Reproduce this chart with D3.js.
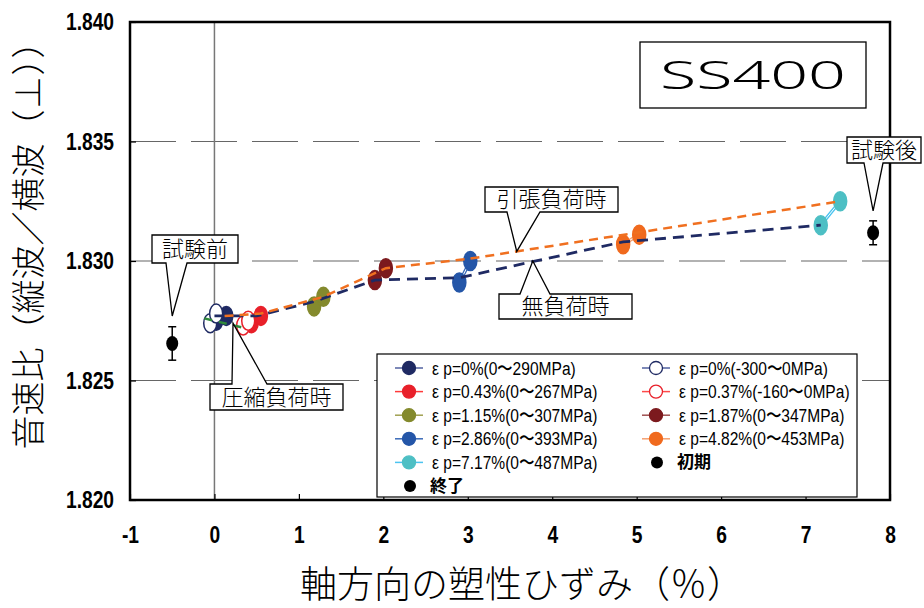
<html><head>
<meta charset="utf-8">
<script src="https://d3js.org/d3.v7.min.js"></script>
<style>
body { margin: 0; background: #fff; }
</style>
</head>
<body>
<div id="chart"></div>
<script>

// axis ticks
var xTicks = [-1, 0, 1, 2, 3, 4, 5, 6, 7, 8];
var yTicks = [1.820, 1.825, 1.830, 1.835, 1.840];
var gridValues = [1.825, 1.830, 1.835];

// series: [plastic strain %, velocity ratio]
var seriesNames = [
  "ε p=0%(0〜290MPa)", "ε p=0%(-300〜0MPa)",
  "ε p=0.43%(0〜267MPa)", "ε p=0.37%(-160〜0MPa)",
  "ε p=1.15%(0〜307MPa)", "ε p=1.87%(0〜347MPa)",
  "ε p=2.86%(0〜393MPa)", "ε p=4.82%(0〜453MPa)",
  "ε p=7.17%(0〜487MPa)"
];
var seriesPoints = [
  [[0.02, 1.8275], [0.14, 1.8277]],
  [[-0.05, 1.8274], [0.02, 1.8278]],
  [[0.44, 1.8274], [0.55, 1.8277]],
  [[0.34, 1.8273], [0.40, 1.8275]],
  [[1.18, 1.8281], [1.29, 1.8285]],
  [[1.90, 1.8292], [2.03, 1.8297]],
  [[2.90, 1.8291], [3.03, 1.8300]],
  [[4.84, 1.8307], [5.03, 1.8311]],
  [[7.18, 1.8315], [7.41, 1.8325]]
];
var seriesOpen = [false, true, false, true, false, false, false, false, false];

// initial / final measurements with error bars [x, y, err]
var initialPoint = [-0.5, 1.82655, 0.0007];
var finalPoint = [7.8, 1.83118, 0.0005];

// trend lines
var tensionLine = [[0.12, 1.8277], [0.55, 1.8278], [1.29, 1.8285], [2.03, 1.8297], [3.03, 1.8301], [5.03, 1.8312], [7.41, 1.8325]];
var unloadLine = [[0.0, 1.8277], [0.5, 1.8277], [1.18, 1.8283], [1.90, 1.8292], [2.90, 1.8293], [4.84, 1.8308], [7.18, 1.8315]];
var compressLine = [[-0.12, 1.8276], [0.35, 1.8272]];

// styles
var markerColors = ["#1f2a63", "#1f2a63", "#e8202a", "#e8202a", "#848a2d", "#7c1a1e", "#2456a8", "#f06a1e", "#4dbfc4"];
var lineColors = ["#5262a0", "#5262a0", "#ff3a3a", "#ff4a4a", "#a0a050", "#a05050", "#3a6ab8", "#f5a070", "#4cc4f0"];

var width = 924, height = 608;
var plot = {left: 130, right: 890, top: 22, bottom: 500};

var svg = d3.select("#chart").append("svg")
    .attr("width", width)
    .attr("height", height);

var x = d3.scaleLinear().domain([-1, 8]).range([plot.left, plot.right]);
var y = d3.scaleLinear().domain([1.820, 1.840]).range([plot.bottom, plot.top]);

var numFont = "'Liberation Sans', Arial, sans-serif";
var jpFont = "'Noto Sans CJK JP', sans-serif";

// grid lines
svg.selectAll(".grid").data(gridValues).enter().append("line")
    .attr("x1", plot.left).attr("x2", plot.right)
    .attr("y1", function(d) { return y(d); })
    .attr("y2", function(d) { return y(d); })
    .attr("stroke", "#666")
    .attr("stroke-width", 1.2)
    .attr("stroke-dasharray", "46,15");

svg.append("line")
    .attr("x1", x(0)).attr("x2", x(0))
    .attr("y1", plot.top).attr("y2", plot.bottom)
    .attr("stroke", "#777")
    .attr("stroke-width", 1.5);

// axes
var xAxis = svg.append("g")
    .attr("transform", "translate(0," + plot.bottom + ")")
    .call(d3.axisBottom(x).tickValues(xTicks).tickSize(-6).tickPadding(26)
      .tickFormat(function(d) { return String(d); }));
var yAxis = svg.append("g")
    .attr("transform", "translate(" + plot.left + ",0)")
    .call(d3.axisLeft(y).tickValues(yTicks).tickSize(-6).tickPadding(17)
      .tickFormat(function(d) { return d.toFixed(3); }));

[xAxis, yAxis].forEach(function(ax) {
  ax.select(".domain").remove();
  ax.selectAll(".tick line").attr("stroke", "#000").attr("stroke-width", 1.2);
  ax.selectAll(".tick text")
    .style("font-family", numFont)
    .style("font-size", "24px")
    .style("font-weight", "bold")
    .attr("fill", "#000");
});
xAxis.selectAll(".tick text").attr("transform", "scale(0.8,1)");
yAxis.selectAll(".tick text").attr("transform", "scale(0.8,1)").attr("x", -16 / 0.8);

// frame
svg.append("rect")
    .attr("x", plot.left).attr("y", plot.top)
    .attr("width", plot.right - plot.left)
    .attr("height", plot.bottom - plot.top)
    .attr("fill", "none")
    .attr("stroke", "#000")
    .attr("stroke-width", 2.5);

// series connecting lines
var line = d3.line().x(function(d) { return x(d[0]); }).y(function(d) { return y(d[1]); });
seriesPoints.forEach(function(pts, i) {
  svg.append("path").datum(pts).attr("d", line)
      .attr("fill", "none").attr("stroke", lineColors[i]).attr("stroke-width", 3.5);
  svg.append("path").datum(pts).attr("d", line)
      .attr("fill", "none").attr("stroke", "#fff").attr("stroke-width", 1);
});

// markers
seriesPoints.forEach(function(pts, i) {
  svg.selectAll(".m" + i).data(pts).enter().append("ellipse")
      .attr("cx", function(d) { return x(d[0]); })
      .attr("cy", function(d) { return y(d[1]); })
      .attr("rx", 6.5)
      .attr("ry", 9.5)
      .attr("fill", seriesOpen[i] ? "#fff" : markerColors[i])
      .attr("stroke", markerColors[i])
      .attr("stroke-width", 1.5);
});

// initial / final
[initialPoint, finalPoint].forEach(function(p) {
  var g = svg.append("g").attr("stroke", "#000").attr("stroke-width", 1.5);
  g.append("line").attr("x1", x(p[0])).attr("x2", x(p[0]))
      .attr("y1", y(p[1] - p[2])).attr("y2", y(p[1] + p[2]));
  g.append("line").attr("x1", x(p[0]) - 4).attr("x2", x(p[0]) + 4)
      .attr("y1", y(p[1] - p[2])).attr("y2", y(p[1] - p[2]));
  g.append("line").attr("x1", x(p[0]) - 4).attr("x2", x(p[0]) + 4)
      .attr("y1", y(p[1] + p[2])).attr("y2", y(p[1] + p[2]));
  svg.append("ellipse").attr("cx", x(p[0])).attr("cy", y(p[1]))
      .attr("rx", 6).attr("ry", 7.5).attr("fill", "#000");
});

// trend lines (drawn over the markers)
svg.append("path").datum(compressLine).attr("d", line)
    .attr("fill", "none").attr("stroke", "#2f8a3a").attr("stroke-width", 2.5)
    .attr("stroke-dasharray", "8,7");
svg.append("path").datum(unloadLine).attr("d", line)
    .attr("fill", "none").attr("stroke", "#1f2a63").attr("stroke-width", 2.8)
    .attr("stroke-dasharray", "11,7");
svg.append("path").datum(tensionLine).attr("d", line)
    .attr("fill", "none").attr("stroke", "#f07020").attr("stroke-width", 2.5)
    .attr("stroke-dasharray", "9,6");

// callouts
var callouts = [
  {text: "試験前", box: [152, 235, 238, 263], base: [166, 187], side: "bottom", tip: [-0.5, 1.8277]},
  {text: "試験後", box: [847, 137, 921, 163], base: [864, 883], side: "bottom", tip: [7.8, 1.8321]},
  {text: "引張負荷時", box: [485, 187, 618, 212], base: [507, 540], side: "bottom", tip: [3.58, 1.8304]},
  {text: "無負荷時", box: [499, 294, 632, 319], base: [520, 550], side: "top", tip: [3.77, 1.8300]},
  {text: "圧縮負荷時", box: [210, 384, 343, 410], base: [232, 267], side: "top", tip: [0.22, 1.8274]}
];
callouts.forEach(function(c) {
  var b = c.box, tx = x(c.tip[0]), ty = y(c.tip[1]);
  var p = d3.path();
  if (c.side === "bottom") {
    p.moveTo(b[0], b[1]); p.lineTo(b[2], b[1]); p.lineTo(b[2], b[3]);
    p.lineTo(c.base[1], b[3]); p.lineTo(tx, ty); p.lineTo(c.base[0], b[3]);
    p.lineTo(b[0], b[3]); p.closePath();
  } else {
    p.moveTo(b[0], b[1]); p.lineTo(c.base[0], b[1]); p.lineTo(tx, ty);
    p.lineTo(c.base[1], b[1]); p.lineTo(b[2], b[1]); p.lineTo(b[2], b[3]);
    p.lineTo(b[0], b[3]); p.closePath();
  }
  svg.append("path").attr("d", p.toString())
      .attr("fill", "#fff").attr("stroke", "#000").attr("stroke-width", 1.3);
  svg.append("text")
      .attr("x", (b[0] + b[2]) / 2)
      .attr("y", (b[1] + b[3]) / 2)
      .attr("dy", "0.36em")
      .attr("text-anchor", "middle")
      .style("font-family", jpFont)
      .style("font-weight", 300)
      .style("font-size", "22px")
      .text(c.text);
});

// SS400 label
svg.append("rect").attr("x", 640).attr("y", 42).attr("width", 226).attr("height", 66)
    .attr("fill", "#fff").attr("stroke", "#000").attr("stroke-width", 1.3);
svg.append("text").attr("x", 660).attr("y", 75).attr("dy", "0.36em")
    .attr("textLength", 186)
    .attr("lengthAdjust", "spacingAndGlyphs")
    .style("font-family", "'Noto Sans', sans-serif")
    .style("font-weight", 300)
    .style("font-size", "39px")
    .text("SS400");

// legend
var legend = svg.append("g");
legend.append("rect").attr("x", 377).attr("y", 354).attr("width", 480).attr("height", 143)
    .attr("fill", "#fff").attr("stroke", "#000").attr("stroke-width", 1.2);
var legendItems = [
  {col: 0, row: 0, s: 0}, {col: 0, row: 1, s: 2}, {col: 0, row: 2, s: 4}, {col: 0, row: 3, s: 6}, {col: 0, row: 4, s: 8},
  {col: 1, row: 0, s: 1}, {col: 1, row: 1, s: 3}, {col: 1, row: 2, s: 5}, {col: 1, row: 3, s: 7}
];
var colX = [409, 656];
legendItems.forEach(function(it) {
  var cx = colX[it.col], cy = 368 + it.row * 23.6;
  legend.append("line").attr("x1", cx - 14).attr("x2", cx + 14).attr("y1", cy).attr("y2", cy)
      .attr("stroke", lineColors[it.s]).attr("stroke-width", 1.5);
  legend.append("circle").attr("cx", cx).attr("cy", cy).attr("r", 6.5)
      .attr("fill", seriesOpen[it.s] ? "#fff" : markerColors[it.s])
      .attr("stroke", markerColors[it.s]).attr("stroke-width", 1.3);
  legend.append("text")
      .attr("transform", "translate(" + (cx + 23) + "," + (cy + 6.5) + ") scale(0.82,1)")
      .style("font-family", numFont)
      .style("font-size", "19px")
      .text(seriesNames[it.s]);
});
[{label: "初期", cx: 657, cy: 368 + 4 * 23.6}, {label: "終了", cx: 410, cy: 368 + 5 * 23.6}].forEach(function(it) {
  legend.append("circle").attr("cx", it.cx).attr("cy", it.cy).attr("r", 6).attr("fill", "#000");
  legend.append("text").attr("x", it.cx + 20).attr("y", it.cy + 6)
      .style("font-family", jpFont).style("font-weight", "bold").style("font-size", "17px")
      .text(it.label);
});

// axis titles
svg.append("text")
    .attr("transform", "translate(522,598)")
    .attr("text-anchor", "middle")
    .style("font-family", jpFont)
    .style("font-weight", 300)
    .style("font-size", "37px")
    .text("軸方向の塑性ひずみ（％）");
svg.append("text")
    .attr("transform", "translate(41,237) rotate(-90)")
    .attr("text-anchor", "middle")
    .style("font-family", jpFont)
    .style("font-weight", 300)
    .style("font-size", "34px")
    .text("音速比（縦波／横波（⊥））");

</script>
</body></html>
